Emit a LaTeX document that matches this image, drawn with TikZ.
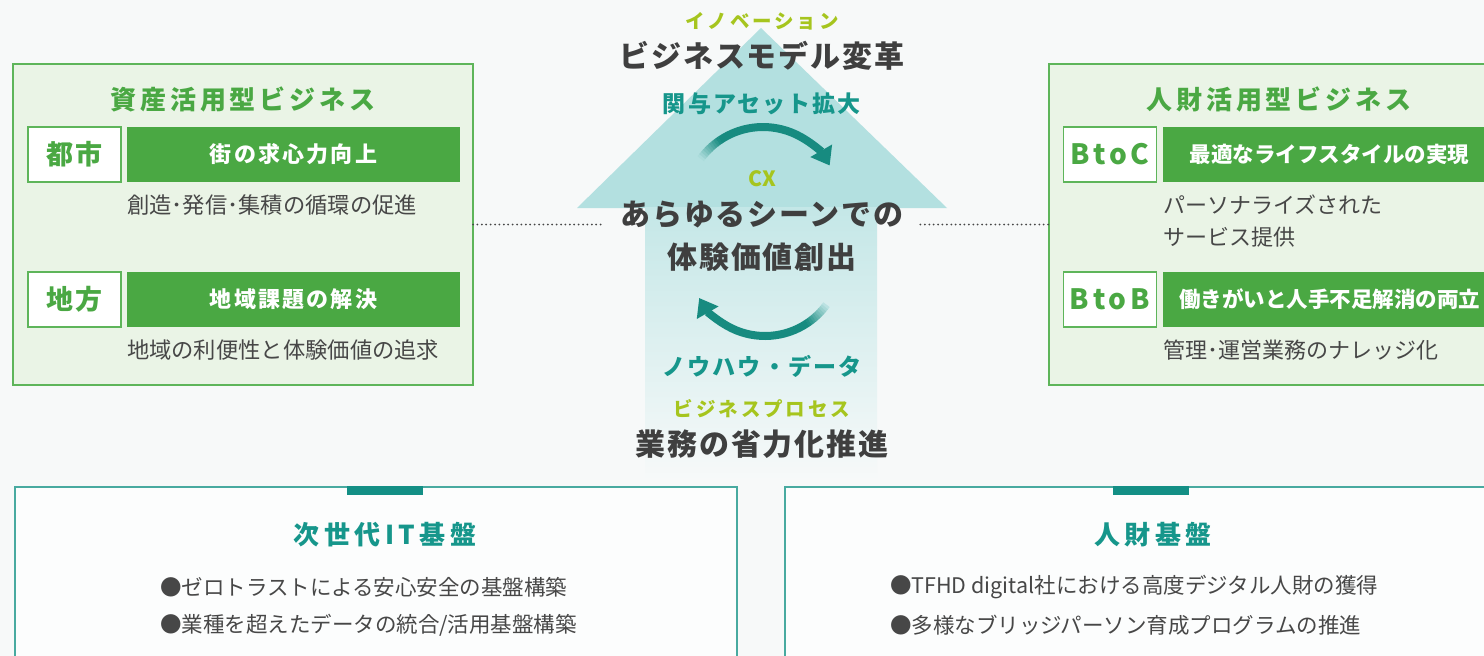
\documentclass[tikz,border=0pt]{standalone}
\usepackage{fontspec}
\setmainfont{Noto Sans CJK JP}
\usetikzlibrary{arrows.meta}
\definecolor{bg}{HTML}{F7F9F9}
\definecolor{boxfill}{HTML}{EAF4E6}
\definecolor{boxline}{HTML}{5EB55A}
\definecolor{green}{HTML}{4AA843}
\definecolor{dark}{HTML}{3F3F3F}
\definecolor{subdark}{HTML}{474747}
\definecolor{tealtxt}{HTML}{16968B}
\definecolor{arrowteal}{HTML}{178B80}
\definecolor{yg}{HTML}{A6C51E}
\definecolor{arrowfill}{HTML}{B3E0E0}
\definecolor{shafttop}{HTML}{C4E7E7}
\definecolor{baseline}{HTML}{48AAA0}
\definecolor{tab}{HTML}{138F85}
\newcommand\myfs[1]{\fontsize{#1pt}{#1pt}\selectfont}
\newcommand\mylsp[1]{\addfontfeatures{LetterSpace=#1}}
\tikzset{
  bizbox/.style={draw=boxline, line width=1.6pt, fill=boxfill, minimum width=460pt, minimum height=321pt},
  tagbox/.style={draw=boxline, line width=1.4pt, fill=white, minimum width=93pt, minimum height=55pt,
    text=green, font=\bfseries\myfs{27}\mylsp{5}},
  latintag/.style={tagbox, font=\bfseries\myfs{28}\mylsp{14}},
  barbox/.style={fill=green, minimum width=333pt, minimum height=55pt, text=white,
    font=\bfseries\myfs{22}\mylsp{10}},
  barbox2/.style={barbox, font=\bfseries\myfs{21.5}},
  bizttl/.style={text=green, font=\bfseries\myfs{26}\mylsp{15}},
  subtxt/.style={anchor=west, text=subdark, font=\myfs{22.3}},
  bigtext/.style={text=dark, font=\bfseries\myfs{30}\mylsp{6}},
  tealtext/.style={text=tealtxt, font=\bfseries\myfs{23}\mylsp{9}},
  ygtext/.style={text=yg, font=\bfseries\myfs{19.5}\mylsp{15}},
  arcline/.style={line width=8pt, draw=arrowteal},
  dotline/.style={draw=subdark, line width=2pt, line cap=round, dash pattern=on 0pt off 4.4pt},
  basebox/.style={draw=baseline, line width=1.4pt, fill=white!60!bg, minimum width=722pt, minimum height=200pt, anchor=north west},
  tabbar/.style={fill=tab, minimum width=76pt, minimum height=9pt},
  basettl/.style={text=tealtxt, font=\bfseries\myfs{26}\mylsp{17}},
  bullet/.style={anchor=west, text=subdark, font=\myfs{21.5}},
}
\begin{document}
\begin{tikzpicture}[x=1pt,y=-1pt, every node/.style={inner sep=0pt, outer sep=0pt}]
\useasboundingbox (0,0) rectangle (1484,656);
\clip (0,0) rectangle (1484,656);
\fill[bg] (0,0) rectangle (1484,656);

% big arrow
\fill[arrowfill] (577,208) -- (761,28) -- (947,208) -- cycle;
\shade[top color=shafttop, bottom color=bg] (645,207.5) rectangle (877,480);

% left business box
\node[bizbox] (lbox) at (243,224.5) {};
\node[bizttl] (lttl) at (243,99.5) {資産活用型ビジネス};
\node[tagbox] (toshi) at (74.5,154.5) {都市};
\node[barbox] (toshibar) at (293.5,154.5) {街の求心力向上};
\node[subtxt] (toshisub) at (127,205) {創造･発信･集積の循環の促進};
\node[tagbox] (chiho) at (74.5,299.5) {地方};
\node[barbox] (chihobar) at (293.5,299.5) {地域課題の解決};
\node[subtxt] (chihosub) at (127,350) {地域の利便性と体験価値の追求};

% right business box
\node[bizbox] (rbox) at (1279,224.5) {};
\node[bizttl] (rttl) at (1279,99.5) {人財活用型ビジネス};
\node[latintag] (btoc) at (1110,154.5) {BtoC};
\node[barbox2] (btocbar) at (1329.5,154.5) {最適なライフスタイルの実現};
\node[subtxt, font=\myfs{22}] (btocsub1) at (1163,205) {パーソナライズされた};
\node[subtxt, font=\myfs{22}] (btocsub2) at (1163,237) {サービス提供};
\node[latintag] (btob) at (1110,299.5) {BtoB};
\node[barbox2] (btobbar) at (1329.5,299.5) {働きがいと人手不足解消の両立};
\node[subtxt, font=\myfs{22}] (btobsub) at (1163,350) {管理･運営業務のナレッジ化};

% center texts
\node[ygtext] (inno) at (762,21) {イノベーション};
\node[bigtext] (bmc) at (762,56) {ビジネスモデル変革};
\node[tealtext] (kanyo) at (762,104) {関与アセット拡大};
\node[ygtext, font=\bfseries\myfs{21}] (cx) at (762,179) {CX};
\node[bigtext, inner xsep=17pt] (scene) at (762,215) {あらゆるシーンでの};
\node[bigtext] (taiken) at (762,257) {体験価値創出};
\node[tealtext] (knowhow) at (762,366) {ノウハウ・データ};
\node[ygtext] (bp) at (762,409) {ビジネスプロセス};
\node[bigtext] (gyomu) at (762,444) {業務の省力化推進};

% dotted connectors
\draw[dotline] (lbox.east) -- (lbox.east -| scene.west);
\draw[dotline] (rbox.west -| scene.east) -- (rbox.west);

% curved arrows (top)
\foreach \i in {0,...,9} {
  \pgfmathtruncatemacro\pc{10*\i+5}
  \pgfmathsetmacro\sa{-144+2*\i}
  \pgfmathsetmacro\ea{-144+2*\i+2.2}
  \draw[arcline, draw=arrowteal!\pc!arrowfill] (763,204) ++(\sa:77) arc[start angle=\sa, end angle=\ea, radius=77];
}
\draw[arcline, -{Triangle[length=17pt,width=24pt]}] (763,204) ++(-124:77) arc[start angle=-124, end angle=-30, radius=77];

% curved arrows (bottom)
\foreach \i in {0,...,9} {
  \pgfmathtruncatemacro\pc{10*\i+5}
  \pgfmathsetmacro\sa{36+2*\i}
  \pgfmathsetmacro\ea{36+2*\i+2.2}
  \draw[arcline, draw=arrowteal!\pc!shafttop] (765,260) ++(\sa:76) arc[start angle=\sa, end angle=\ea, radius=76];
}
\draw[arcline, -{Triangle[length=17pt,width=24pt]}] (765,260) ++(56:76) arc[start angle=56, end angle=150, radius=76];

% bottom foundation boxes
\node[basebox] (itbox) at (15,487) {};
\node[tabbar] (ittab) at (385,490.5) {};
\node[basettl] (itttl) at (385,535) {次世代IT基盤};
\node[bullet] (it1) at (160,587) {●ゼロトラストによる安心安全の基盤構築};
\node[bullet] (it2) at (160,625) {●業種を超えたデータの統合/活用基盤構築};

\node[basebox] (hrbox) at (785,487) {};
\node[tabbar] (hrtab) at (1151,490.5) {};
\node[basettl] (hrttl) at (1153,535) {人財基盤};
\node[bullet] (hr1) at (890,587) {●TFHD digital社における高度デジタル人財の獲得};
\node[bullet] (hr2) at (890,625) {●多様なブリッジパーソン育成プログラムの推進};
\end{tikzpicture}
\end{document}
